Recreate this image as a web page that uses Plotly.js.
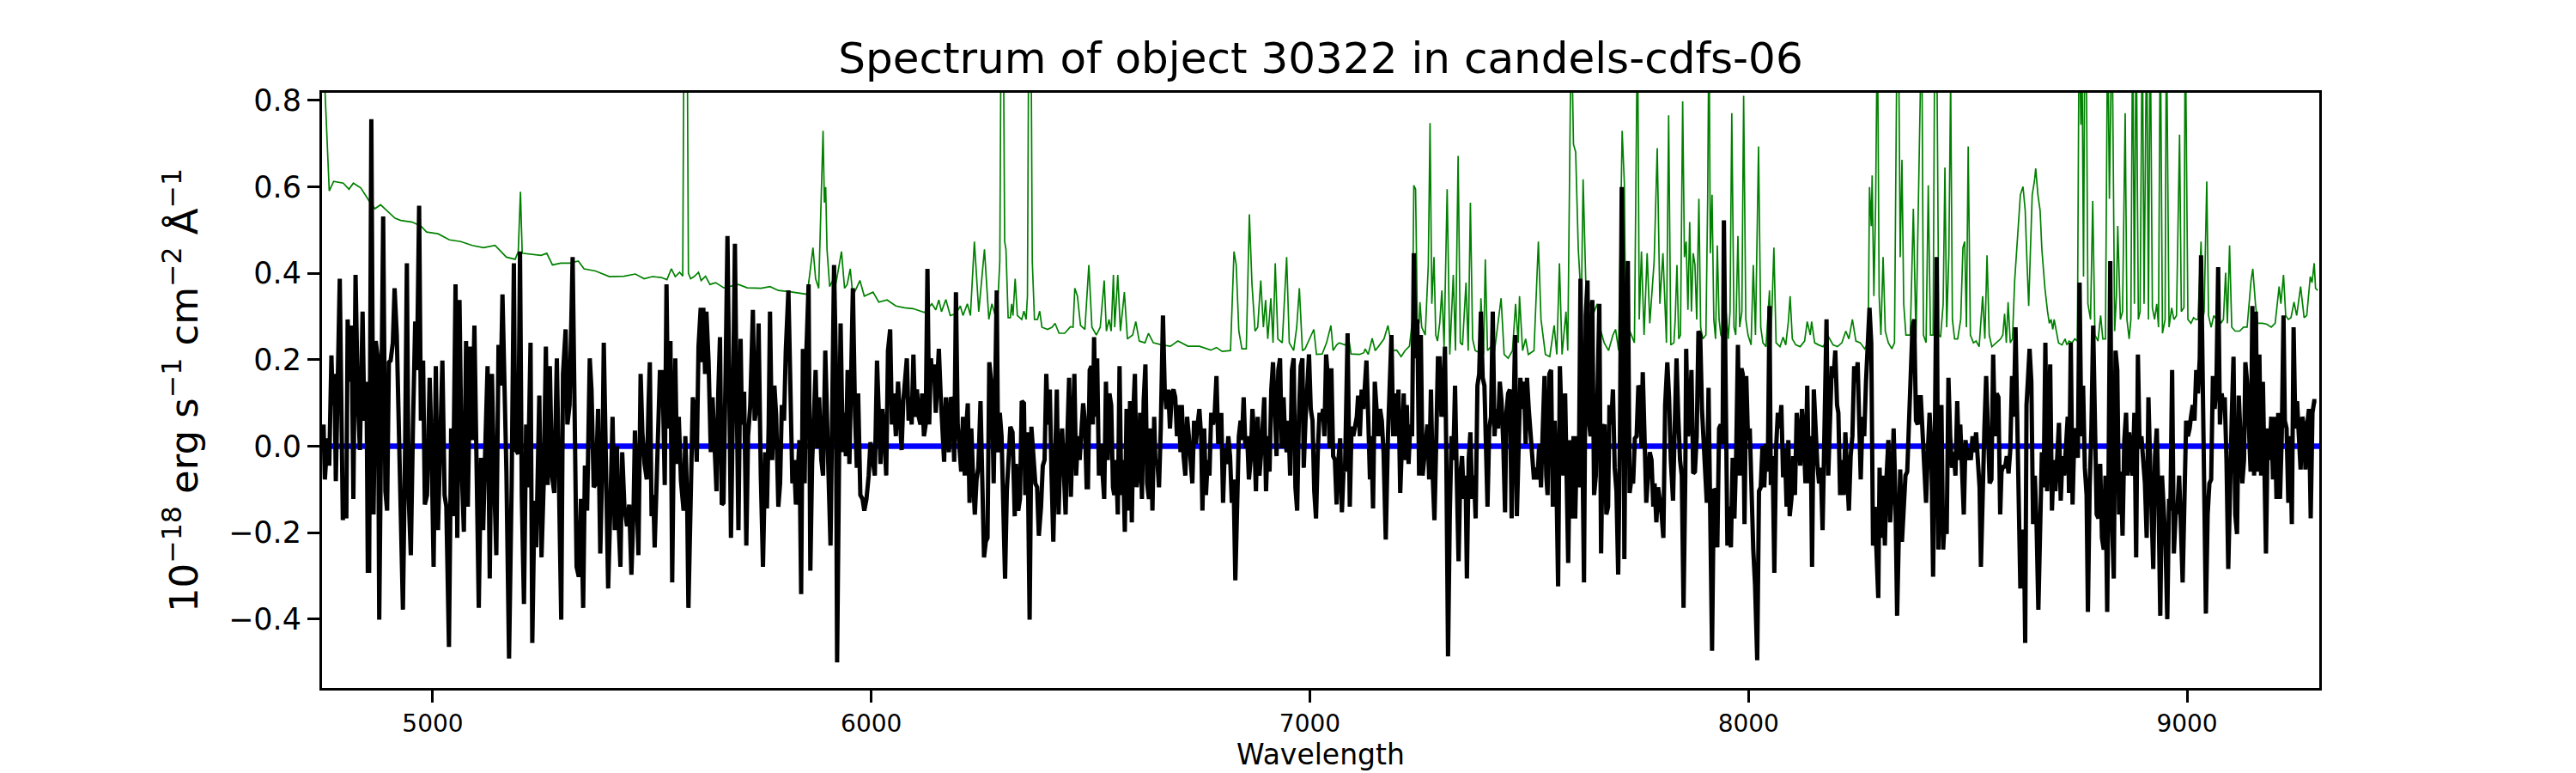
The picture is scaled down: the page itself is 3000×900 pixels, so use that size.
<!DOCTYPE html>
<html>
<head>
<meta charset="utf-8">
<script src="https://cdn.plot.ly/plotly-3.0.1.min.js"></script>
<style>html,body{margin:0;padding:0;background:#fff;}#chart{width:3000px;height:900px;}</style>
</head>
<body>
<div id="chart"></div>
<script>
// ---- Data ----
const chartTitle = 'Spectrum of object 30322 in candels-cdfs-06';
const xTitle = 'Wavelength';
const yTitle = '10<sup>\u221218</sup> erg s<sup>\u22121</sup> cm<sup>\u22122</sup> \u00c5<sup>\u22121</sup>';
const xTickVals = [5000, 6000, 7000, 8000, 9000];
const xTickText = ['5000', '6000', '7000', '8000', '9000'];
const yTickVals = [-0.4, -0.2, 0.0, 0.2, 0.4, 0.6, 0.8];
const yTickText = ['\u22120.4', '\u22120.2', '0.0', '0.2', '0.4', '0.6', '0.8'];

// Observed flux (black), in six wavelength pieces
const fluxWave1 = [4751,4754,4760,4764,4769,4772,4776,4779,4788,4792,4795,4800,4803,4806,4811,4815,4819,4824,4829,4834,4840,4844,4849,4852,4855,4860,4865,4870,4875,4878,4883,4887,4892,4896,4900,4904,4909,4913,4918,4924,4932,4937,4941,4945,4950,4955,4960,4964,4969,4973,4978,4982,4987,4993,4997,5002,5007,5012,5016,5022,5027,5031,5037,5042,5046,5052,5056,5061,5066,5071,5076,5080,5086,5090,5095,5101,5105,5110,5115,5120,5125,5130,5135,5140,5145,5150,5155,5159,5164,5168,5174,5180,5185,5188,5195,5199,5203,5208,5213,5217,5223,5227,5232,5236,5243,5248,5253,5258,5262,5267,5272,5277,5283,5288,5293,5297,5303,5307,5312,5319,5323,5328,5333,5338,5343,5347,5352,5358,5362,5367,5372,5377,5382,5387,5390,5396,5400,5405,5410,5415,5420,5423,5428,5432,5437,5443,5448,5453,5458,5461,5465,5469,5474,5478,5483,5488,5492,5495,5499,5503,5506,5511,5518];
const flux1 = [0.05,-0.077,0.018,-0.045,0.21,0.095,0.167,-0.081,0.387,-0.032,-0.171,-0.077,-0.167,0.293,0.149,0.279,-0.122,0.396,0.113,-0.009,0.311,0.059,0.149,-0.288,-0.288,0.756,-0.158,0.243,0.203,-0.401,0.059,0.531,-0.104,-0.149,0.194,0.198,0.239,0.365,0.257,0.023,-0.378,-0.005,0.423,-0.113,-0.252,0.05,0.288,0.176,0.556,0.059,0.198,-0.135,-0.113,0.158,0.014,-0.279,0.185,-0.194,-0.068,0.198,-0.113,-0.14,-0.464,0.041,-0.162,0.374,-0.212,0.338,-0.05,-0.198,0.243,-0.14,0.23,0.014,0.279,-0.113,-0.374,-0.027,-0.194,0.005,0.185,-0.306,0.167,-0.077,-0.252,0.234,0.14,0.351,0.122,-0.059,-0.491,-0.086,0.423,-0.005,-0.018,0.45,-0.113,-0.365,0.05,-0.095,0.239,-0.455,-0.126,-0.234,0.117,-0.257,-0.086,0.23,-0.09,0.185,-0.068,-0.108,0.203,-0.068,-0.401,0.167,0.27,0.05,0.095,0.437,0.041,-0.279,-0.302,-0.122,-0.374,-0.045,-0.149,0.203,0.131,-0.095,-0.086,0.086,-0.248,-0.027,0.239,-0.095,-0.329,-0.14,0.068,-0.194,0,-0.158,-0.279,-0.014,-0.14,-0.185,-0.135,-0.297,-0.14,0.036,-0.14,-0.252,0.167,0.032,-0.041,-0.077,0.095,0.194,-0.162,-0.113,-0.234,-0.077,0.171];

const fluxWave2 = [5524,5529,5533,5537,5542,5546,5550,5553,5557,5561,5566,5572,5576,5580,5583,5588,5593,5597,5602,5606,5611,5614,5617,5621,5624,5629,5634,5638,5643,5647,5651,5655,5659,5663,5668,5672,5676,5680,5684,5689,5692,5697,5702,5705,5710,5715,5719,5724,5730,5734,5738,5743,5748,5753,5758,5762,5766,5769,5774,5779,5783,5788,5792,5796,5801,5805,5811,5816,5820,5824,5828,5831,5836,5840,5844,5848,5852,5857,5861,5865,5869,5873,5877,5881,5886,5890,5895,5899,5903,5907,5911,5915,5919,5922,5927,5930,5935,5938,5942,5946,5950,5954,5958,5963,5967,5970,5975,5980,5984,5989,5994,5998,6004,6008,6013,6017,6021,6025,6030,6034,6038,6043,6047,6051,6056,6061,6065,6069,6073,6077,6081,6085,6089,6092,6096,6100,6104,6108,6112,6116,6120,6124,6128,6132,6136,6139,6143,6147,6151,6154,6158,6162,6166,6170,6173,6177,6181,6185,6189,6193,6197,6201,6205,6209,6213,6217,6220,6224,6228,6232,6236,6240,6244,6249,6253,6257,6261,6265,6269,6275,6279,6283];
const flux2 = [0.171,-0.09,0.374,0.041,0.243,-0.315,0.059,0.203,-0.041,0.068,-0.081,-0.149,0.023,-0.122,-0.374,-0.095,0.113,0.086,-0.036,0.23,0.32,0.194,0.32,0.167,0.311,0.194,-0.014,0.113,-0.023,-0.104,0.122,0.252,-0.135,-0.131,0.185,0.486,0.149,-0.212,0.059,0.468,0.203,-0.194,0.248,0.05,0.126,-0.23,0.023,0.095,0.315,0.059,0.086,0.284,-0.068,-0.279,-0.014,-0.144,0.05,0.311,-0.032,0.14,0.072,-0.14,-0.086,0.095,0.059,0.221,0.36,0.068,-0.086,-0.032,-0.135,-0.095,0.014,-0.342,0.225,-0.086,0.221,0.374,-0.288,-0.041,0.059,0.176,-0.005,0.113,-0.032,-0.068,0.221,0.023,-0.086,-0.23,0.077,0.419,0.203,-0.5,0.023,0.284,-0.014,0.077,-0.023,0.176,-0.041,0.185,0.365,0.068,-0.05,0.122,-0.113,-0.122,-0.149,-0.122,-0.068,0.009,-0.032,-0.068,0.198,0.041,-0.041,0.086,0.023,-0.068,0.221,0.27,0.05,0.122,0.023,0.149,0.086,-0.009,0.104,0.167,0.203,0.059,0.113,0.05,0.212,0.068,0.131,0.068,0.05,0.122,0.023,0.05,0.41,0.05,0.203,0.149,0.189,0.077,0.167,0.225,0.122,0.05,-0.036,0.113,0.05,-0.014,0.113,0.104,-0.036,0.356,0.05,0.005,-0.059,0.068,-0.068,0.05,0.099,-0.131,0.041,-0.068,-0.158,-0.077,-0.05,0.104,-0.14,-0.257,-0.221,-0.212,0.194,0.131,-0.086,0.194];

const fluxWave3 = [6286,6289,6293,6297,6301,6305,6309,6313,6317,6322,6327,6330,6335,6339,6343,6348,6351,6356,6361,6365,6369,6374,6378,6382,6387,6391,6395,6399,6403,6407,6411,6415,6419,6423,6427,6431,6435,6439,6443,6447,6451,6455,6459,6463,6467,6471,6475,6479,6483,6487,6491,6494,6498,6502,6505,6508,6511,6515,6519,6523,6527,6531,6535,6539,6543,6547,6551,6554,6558,6562,6566,6570,6574,6578,6582,6586,6590,6594,6598,6601,6605,6609,6613,6617,6621,6625,6629,6633,6637,6641,6645,6648,6652,6656,6660,6665,6669,6673,6677,6681,6685,6689,6693,6697,6701,6705,6708,6712,6716,6720,6724,6728,6732,6736,6740,6744,6748,6752,6755,6759,6763,6767,6771,6775,6779,6783,6787,6791,6795,6798,6802,6806,6810,6814,6818,6822,6826,6830,6834,6838,6842,6845,6849,6853,6857,6861,6865,6869,6873,6877,6881,6885,6889,6893,6896,6900,6904,6908,6912,6916,6920,6924,6928,6932,6936,6940,6943,6947,6951,6955,6959,6963,6967,6971,6975,6979,6983,6986,6990,6994,6998,7002,7006,7010,7014,7018,7022,7026,7030,7033,7037,7041,7045];
const flux3 = [0.36,-0.014,0.077,0.023,-0.122,-0.306,-0.104,-0.014,0.045,0.032,-0.162,-0.041,-0.149,-0.122,0.104,0.099,-0.113,0.032,-0.401,0.045,-0.014,-0.086,-0.095,-0.207,-0.14,-0.045,-0.032,0.167,0.05,0.131,-0.068,-0.221,-0.041,0.131,-0.158,-0.014,0.041,-0.068,-0.158,0.023,0.158,-0.117,0.05,0.167,-0.068,0.023,-0.032,0.023,0.099,0.059,-0.095,-0.095,0.176,0.185,0.05,0.252,0.068,0.203,-0.068,0.005,-0.068,-0.122,0.149,-0.032,0.122,0.095,-0.095,-0.113,-0.032,-0.158,0.185,-0.113,-0.032,-0.198,0.086,-0.149,0.104,-0.176,0.095,0.167,-0.095,-0.059,0.077,-0.122,0.104,0.189,-0.086,-0.122,0.041,-0.149,0.068,-0.045,-0.032,-0.095,0.041,0.302,0.131,0.086,0.131,0.041,0.122,0.131,0.113,0.023,0.095,-0.014,0.095,-0.023,-0.068,0.068,0.023,-0.032,-0.086,0.059,0.005,0.05,0.086,0.023,-0.149,0.041,-0.113,-0.032,-0.068,0.077,0.05,0.077,0.162,0.005,0.023,0.077,-0.131,-0.005,-0.041,0.023,-0.023,-0.131,-0.077,-0.31,-0.077,0.023,0.059,0.014,0.113,-0.005,0.023,-0.077,-0.032,0.086,0.023,-0.104,0.068,-0.068,-0.014,0.059,0.113,-0.104,0.023,-0.059,0.131,0.194,0.059,-0.023,0.176,0.203,-0.005,0.113,0.032,-0.014,0.059,-0.068,0.176,0.203,-0.095,-0.149,0.068,0.185,0.203,-0.05,0.059,0.158,0.212,0.086,0.059,-0.104,-0.167,-0.014,0.077,0.059,0.086,0.023,0.212,0.158,-0.005];

const fluxWave4 = [7049,7053,7057,7061,7065,7069,7073,7077,7080,7086,7091,7095,7099,7103,7107,7110,7114,7118,7122,7126,7129,7133,7137,7140,7144,7148,7152,7156,7160,7164,7168,7173,7178,7182,7186,7190,7194,7198,7202,7206,7210,7214,7217,7221,7225,7229,7233,7237,7241,7245,7249,7253,7257,7261,7264,7268,7272,7276,7280,7284,7288,7292,7296,7300,7304,7308,7311,7315,7319,7323,7327,7331,7335,7339,7343,7347,7351,7355,7358,7362,7366,7370,7374,7378,7382,7386,7390,7394,7398,7401,7405,7409,7413,7417,7421,7425,7429,7433,7437,7441,7445,7448,7452,7456,7460,7464,7468,7472,7476,7480,7484,7488,7492,7495,7499,7503,7507,7511,7515,7519,7523,7527,7531,7535,7539,7542,7546,7550,7554,7558,7562,7566,7570,7574,7578,7582,7586,7589,7593,7597,7601,7605,7609,7613,7617,7621,7625,7629,7633,7636,7640,7644,7648,7652,7656,7660,7664,7668,7672,7676,7680,7683,7687,7691,7695,7699,7703,7707,7711,7715,7717,7721,7725,7729,7733,7737,7741,7745,7749,7753,7756,7759,7763,7767,7771,7775,7779,7783,7786,7790,7794,7798,7802,7806,7810];
const flux4 = [0.18,-0.023,-0.032,-0.135,-0.032,0.018,-0.153,-0.05,-0.059,0.261,-0.14,0.045,0.023,0.041,0.068,0.117,0.023,0.131,0.086,0.149,0.198,0.068,-0.077,0.023,-0.144,0.149,0.086,0.023,0.086,0.059,-0.014,-0.216,0.023,0.158,0.257,0.023,0.122,0.023,0.131,-0.108,0.05,0.122,-0.032,0.095,-0.041,0.05,0.023,0.446,0.203,0.293,-0.068,0.257,-0.068,-0.032,0.005,0.05,-0.077,0.131,-0.068,-0.171,0.005,0.203,0.203,0.068,0.095,0.23,-0.014,-0.486,-0.158,0.023,-0.032,0.14,-0.077,-0.266,-0.068,-0.023,-0.122,-0.068,-0.306,-0.032,0.032,-0.122,-0.068,-0.167,0.14,0.167,0.311,0.158,0.14,0.05,-0.14,0.041,0.068,0.311,0.023,0.086,0.041,0.149,0.104,0.005,-0.153,0.077,0.122,0.131,-0.167,0.059,0.257,-0.162,0.023,0.158,0.086,0.149,0.005,0.158,0.086,0.023,-0.041,-0.077,-0.05,-0.077,0.005,-0.095,0.041,0.162,-0.068,-0.113,0.167,0.176,-0.14,0.059,-0.068,-0.324,0.185,0.059,-0.068,0.122,-0.122,-0.27,0.014,-0.167,0.023,-0.167,0.023,-0.095,0.387,0.077,-0.315,0.302,0.383,0.059,0.023,0.338,-0.113,-0.068,0.194,0.329,-0.248,0.041,0.05,-0.158,-0.14,0.095,0.05,0.131,-0.05,-0.104,-0.297,0.023,0.599,0.293,-0.261,0.257,0.428,-0.108,-0.077,-0.086,0.018,0.023,0.14,0.131,-0.005,0.171,0.023,-0.131,-0.068,-0.014,-0.032,-0.14,-0.086,-0.176,-0.095,-0.122,-0.158,-0.212,0.095];

const fluxWave5 = [7815,7819,7823,7828,7832,7836,7840,7844,7848,7852,7856,7858,7862,7866,7870,7874,7878,7882,7886,7890,7894,7897,7901,7905,7909,7913,7917,7921,7925,7929,7933,7937,7941,7944,7948,7952,7956,7960,7964,7968,7972,7976,7980,7984,7987,7991,7995,7999,8003,8007,8011,8015,8020,8024,8028,8032,8036,8040,8044,8048,8051,8055,8059,8063,8067,8071,8075,8079,8083,8087,8091,8094,8098,8102,8106,8110,8114,8118,8122,8126,8130,8134,8138,8142,8145,8149,8153,8157,8161,8165,8169,8173,8178,8182,8186,8190,8194,8198,8202,8205,8209,8213,8217,8221,8225,8229,8233,8237,8241,8245,8249,8252,8256,8260,8264,8268,8272,8276,8280,8284,8288,8292,8296,8299,8303,8307,8311,8315,8319,8323,8327,8331,8335,8339,8342,8346,8350,8354,8358,8362,8366,8370,8374,8378,8382,8386,8389,8393,8397,8401,8405,8409,8413,8417,8421,8425,8429,8433,8436,8440,8444,8448,8452,8456,8460,8464,8468,8472,8476,8480,8483,8487,8491,8495,8499,8503,8507,8511,8515,8519,8523,8527,8530,8534,8538,8542,8546,8550,8554,8558,8562,8566,8570,8574];
const flux5 = [0.194,0.113,-0.032,-0.126,0.05,0.203,0.068,-0.032,-0.068,-0.374,-0.068,0.225,0.023,0.059,0.176,-0.063,-0.059,0.023,0.266,0.257,0.086,0.023,-0.023,-0.131,0.135,-0.113,-0.473,-0.099,-0.104,-0.234,0.041,0.05,0.005,0.522,0.05,-0.23,-0.14,-0.234,-0.027,-0.167,-0.018,0.234,-0.068,0.18,0.167,-0.18,0.162,0.014,0.041,-0.131,-0.239,-0.32,-0.495,-0.104,-0.095,0,-0.095,0.005,-0.059,0.324,-0.09,-0.023,-0.293,-0.005,0.077,0.041,0.095,-0.072,-0.005,-0.14,0.014,-0.162,-0.122,-0.023,-0.113,0.077,0.032,-0.045,0.086,0.023,-0.086,0.14,-0.086,0.023,-0.279,0.131,0.023,-0.041,-0.086,-0.05,-0.194,-0.005,0.293,-0.068,0.059,0.185,0.158,0.221,0.095,0.077,-0.113,-0.032,-0.113,0.032,-0.068,-0.149,-0.023,0.023,0.185,0.149,0.194,0.05,-0.077,0.068,0.023,0.149,0.248,0.32,0.239,-0.23,-0.14,-0.23,-0.351,-0.05,-0.212,-0.068,-0.23,-0.068,0.014,-0.176,-0.104,0.041,-0.113,-0.392,-0.212,-0.054,-0.221,-0.113,-0.068,-0.059,0.05,0.203,0.275,0.293,0.059,0.05,0.113,0.113,0.041,-0.032,-0.131,-0.014,0.077,-0.005,-0.302,0.023,0.437,-0.239,-0.131,0.095,-0.239,-0.158,-0.203,0.158,0.023,-0.05,-0.014,-0.068,0.104,-0.032,0.05,-0.041,-0.158,0.014,-0.032,-0.005,-0.032,0.023,-0.014,0.032,-0.045,-0.095,-0.279,-0.05,0.041,0.162,0.059,-0.086,-0.077,0.212,0.023,0.122,0.113,-0.158];

const fluxWave6 = [8577,8581,8585,8589,8593,8597,8601,8605,8609,8613,8617,8620,8624,8628,8631,8634,8637,8641,8645,8649,8653,8657,8661,8665,8669,8673,8677,8681,8684,8688,8692,8696,8700,8704,8708,8712,8716,8720,8724,8728,8731,8735,8739,8743,8747,8751,8755,8759,8763,8767,8771,8774,8778,8782,8786,8790,8794,8798,8802,8806,8810,8814,8818,8821,8825,8829,8833,8837,8841,8845,8849,8853,8857,8861,8865,8868,8872,8876,8880,8884,8888,8892,8896,8900,8904,8908,8912,8915,8919,8923,8927,8931,8935,8939,8943,8947,8951,8955,8959,8962,8966,8970,8974,8978,8982,8986,8990,8994,8998,9002,9006,9009,9013,9017,9021,9025,9029,9032,9036,9039,9043,9047,9051,9055,9059,9063,9067,9071,9075,9079,9083,9086,9090,9094,9098,9102,9106,9110,9114,9118,9122,9126,9130,9133,9137,9141,9145,9149,9153,9157,9161,9165,9169,9173,9176,9180,9184,9188,9192,9196,9200,9204,9208,9212,9216,9220,9223,9227,9231,9235,9239,9243,9247,9251,9255,9259,9263,9267,9270,9274,9278,9282,9286,9290,9295];
const flux6 = [-0.059,-0.045,-0.05,-0.023,-0.063,-0.009,0.162,0.068,0.275,0.077,-0.113,-0.329,-0.203,-0.194,-0.455,0.095,0.149,0.225,0.149,-0.18,-0.068,-0.185,-0.378,-0.14,-0.014,-0.095,0.239,-0.104,0.023,0.189,-0.149,-0.032,-0.104,-0.041,0.054,-0.126,-0.023,-0.068,0.023,0.068,-0.108,0.239,-0.135,0.023,0.041,-0.027,0.378,0.023,0.14,-0.05,-0.113,-0.383,-0.095,0.041,0.279,-0.023,-0.158,-0.167,-0.041,-0.212,-0.239,-0.068,-0.383,-0.068,0.428,-0.176,-0.306,0.221,0.176,-0.158,-0.059,-0.207,0.014,0.077,-0.068,0.032,-0.032,-0.068,0.077,-0.257,0.212,-0.005,0.023,-0.032,-0.086,-0.212,0.113,-0.005,-0.14,-0.284,-0.023,0.041,-0.131,-0.392,-0.068,-0.149,-0.23,-0.4,-0.122,-0.149,0.176,-0.248,-0.158,-0.149,-0.068,-0.185,-0.315,-0.131,0.059,0.023,0.041,0.068,0.095,0.059,0.176,0.122,0.203,0.441,0.14,0.068,-0.387,-0.158,-0.086,-0.077,0.162,0.086,0.14,0.414,0.05,0.122,0.086,0.113,-0.032,-0.284,-0.032,0.068,0.207,-0.158,-0.203,0.117,0.023,-0.086,-0.032,0.194,0.149,0.032,-0.059,0.324,-0.068,0.311,-0.059,0.212,-0.068,0.149,-0.05,-0.248,0.041,-0.032,0.068,-0.077,0.068,-0.122,0.077,-0.122,0.023,0.302,0.059,0.041,-0.131,0.023,-0.18,0.275,0.041,0.104,0.023,-0.054,0.068,0.041,-0.054,0.05,0.086,-0.167,0.077,0.104,0.104];

// Noise / sky spectrum (green); 1.0 marks lines that run off the top of the frame
const skyWave1 = [4750,4754,4764,4774,4796,4809,4819,4836,4855,4868,4881,4894,4914,4927,4953,4973,4986,5012,5038,5064,5090,5116,5142,5168,5188,5195,5200,5204,5221,5247,5260,5273,5292,5312,5332,5345,5371,5403,5436,5462,5482,5501,5521];
const sky1 = [1.0,0.83,0.59,0.612,0.608,0.594,0.608,0.597,0.567,0.549,0.558,0.545,0.527,0.522,0.518,0.509,0.495,0.491,0.477,0.473,0.464,0.459,0.464,0.437,0.432,0.45,0.588,0.446,0.444,0.441,0.446,0.419,0.423,0.423,0.428,0.41,0.405,0.392,0.393,0.398,0.387,0.392,0.39];
const skyWave2 = [5534,5544,5553,5563,5570,5573,5580,5583,5588,5596,5606,5612,5622,5632,5645,5664,5697,5717,5749,5769,5788,5814,5854,5867,5873,5880,5886,5890,5893,5896,5899,5905,5912,5919,5932,5939,5945,5952,5958,5974,5984,6004,6017,6036,6056,6076,6095,6121,6138,6147,6154,6160,6170,6180,6193,6203,6209,6219,6226,6235,6245,6258,6268,6275,6284];
const sky2 = [0.385,0.41,0.392,0.402,0.393,1.0,1.0,0.40,0.387,0.392,0.402,0.383,0.393,0.374,0.378,0.366,0.374,0.366,0.365,0.369,0.36,0.357,0.351,0.459,0.387,0.365,0.572,0.729,0.563,0.599,0.455,0.369,0.383,0.374,0.45,0.365,0.374,0.41,0.347,0.383,0.347,0.356,0.333,0.338,0.324,0.32,0.318,0.309,0.329,0.315,0.338,0.311,0.339,0.302,0.306,0.324,0.302,0.329,0.302,0.473,0.311,0.455,0.293,0.329,0.297];
const skyWave3 = [6290,6293,6296,6301,6304,6307,6312,6317,6320,6323,6328,6333,6343,6348,6353,6356,6359,6364,6367,6372,6379,6384,6389,6402,6412,6419,6428,6441,6454,6460,6464,6470,6477,6487,6496,6503,6513,6522,6531,6536,6542,6547,6552,6555,6562,6568,6577,6584,6596,6603,6611,6624,6632,6643,6663,6682,6699,6722,6748,6774,6787,6800,6819,6827,6832,6838,6845,6855,6862,6868,6875,6881,6888,6894,6899,6904,6911,6916,6921,6927,6937,6947,6953,6963,6970,6976,6983,6989,6999,7009,7015,7028,7038,7048];
const sky3 = [0.365,0.428,1.0,1.0,0.473,0.455,0.297,0.297,0.329,0.302,0.387,0.302,0.293,0.312,0.293,0.347,1.0,1.0,0.428,0.293,0.293,0.312,0.275,0.27,0.275,0.284,0.261,0.261,0.276,0.275,0.365,0.347,0.279,0.27,0.419,0.275,0.257,0.275,0.383,0.266,0.293,0.266,0.396,0.275,0.396,0.266,0.356,0.248,0.257,0.288,0.243,0.239,0.261,0.239,0.234,0.231,0.243,0.231,0.231,0.222,0.228,0.219,0.221,0.45,0.419,0.266,0.225,0.225,0.536,0.374,0.266,0.275,0.383,0.275,0.338,0.248,0.342,0.239,0.423,0.248,0.239,0.437,0.239,0.221,0.275,0.365,0.221,0.225,0.248,0.27,0.212,0.213,0.239,0.279];
const skyWave4 = [7053,7061,7067,7080,7090,7094,7113,7123,7126,7133,7142,7149,7159,7169,7178,7188,7198,7208,7217,7227,7234,7237,7241,7245,7249,7251,7255,7263,7270,7274,7278,7283,7287,7291,7296,7301,7306,7313,7319,7327,7332,7338,7343,7348,7356,7361,7366,7371,7377,7387,7390,7396,7400,7405,7413,7420,7436,7443,7452,7462,7469,7475,7478,7485,7492,7498,7511,7521,7527,7537,7547,7557,7563,7569,7575,7584,7588,7593,7596,7601,7606,7612,7619,7623,7629,7635,7645,7655,7661,7671,7681,7691,7697,7704,7712,7717,7720,7726,7733,7740,7747,7751,7756,7762,7769,7775,7785,7792,7798,7805,7811];
const sky4 = [0.221,0.234,0.239,0.234,0.239,0.213,0.212,0.216,0.225,0.212,0.249,0.221,0.234,0.248,0.279,0.221,0.222,0.207,0.221,0.231,0.293,0.603,0.594,0.293,0.284,0.333,0.275,0.257,0.419,0.747,0.329,0.437,0.257,0.243,0.284,0.36,0.23,0.594,0.212,0.396,0.221,0.671,0.239,0.234,0.378,0.221,0.563,0.248,0.221,0.216,0.342,0.212,0.432,0.221,0.23,0.212,0.342,0.212,0.203,0.221,0.329,0.239,0.347,0.221,0.248,0.212,0.221,0.473,0.293,0.212,0.207,0.279,0.212,0.423,0.212,0.311,0.221,0.563,1.0,0.698,0.68,0.455,0.329,0.617,0.383,0.338,0.302,0.329,0.275,0.239,0.221,0.257,0.27,0.221,0.729,0.608,0.266,0.275,0.257,0.239,1.0,0.293,0.45,0.257,0.446,0.284,0.428,0.689,0.329,0.446,0.293];
const skyWave5 = [7813,7818,7823,7830,7833,7837,7841,7845,7850,7854,7858,7862,7866,7870,7874,7878,7882,7887,7891,7896,7903,7907,7910,7913,7917,7921,7925,7929,7933,7937,7942,7946,7950,7954,7958,7962,7967,7971,7976,7980,7985,7989,7994,7999,8006,8011,8016,8023,8028,8033,8040,8048,8051,8058,8063,8072,8079,8085,8091,8095,8100,8108,8118,8128,8134,8141,8144,8151,8160,8170,8183,8193,8203,8213,8222,8229,8237,8245,8255,8265,8273,8276,8280,8282,8286,8290,8294,8298,8302,8307,8312,8319,8327,8333,8339,8342,8346,8350,8354,8359,8369,8376,8382,8389,8395,8399,8405,8410,8415,8421,8425,8429,8434,8438,8444,8448,8452,8457,8461,8465,8470,8477,8484,8489,8493,8497,8501,8506,8513,8519,8526,8534,8539,8544,8549,8555,8565,8575];
const sky5 = [0.239,0.765,0.234,0.239,0.293,0.419,0.248,0.257,0.797,0.437,0.473,0.315,0.518,0.311,0.446,0.419,0.293,0.572,0.275,0.248,0.257,0.572,1.0,0.446,0.581,0.293,0.248,0.464,0.293,0.257,0.248,0.347,0.293,0.248,0.311,0.77,0.275,0.257,0.486,0.275,0.311,0.81,0.293,0.257,0.234,0.419,0.257,0.693,0.275,0.239,0.23,0.36,0.234,0.459,0.239,0.23,0.252,0.234,0.288,0.347,0.248,0.234,0.23,0.243,0.288,0.257,0.288,0.239,0.234,0.23,0.252,0.234,0.23,0.239,0.266,0.248,0.293,0.243,0.239,0.225,0.239,0.599,0.509,0.626,0.347,0.563,1.0,0.347,0.257,0.437,0.266,0.239,0.225,0.239,1.0,1.0,0.437,0.662,0.329,0.257,0.257,0.549,0.248,0.603,1.0,0.257,0.239,0.603,0.257,0.257,1.0,1.0,0.257,0.252,0.329,0.644,0.275,0.446,0.85,0.293,0.248,0.248,0.293,0.459,0.473,0.275,0.693,0.257,0.239,0.243,0.23,0.347,0.248,0.441,0.257,0.23,0.239,0.248];
const skyWave6 = [8580,8584,8588,8592,8597,8602,8607,8614,8620,8626,8631,8635,8639,8643,8647,8652,8655,8660,8665,8669,8676,8682,8686,8690,8694,8697,8702,8707,8715,8722,8726,8731,8738,8744,8750,8754,8758,8760,8764,8767,8771,8774,8780,8785,8790,8797,8803,8808,8814,8819,8823,8826,8829,8835,8839,8842,8848,8853,8859,8863,8868,8872,8876,8880,8884,8889,8893,8898,8902,8908,8912,8916,8921,8926,8931,8935,8939,8944,8950,8953,8959,8965,8970,8976,8983,8987,8993,8996,9002,9009,9015,9020,9025,9032,9036,9039,9045,9049,9055,9061,9067,9072,9077,9083,9088,9092,9097,9102,9110,9120,9129,9137,9146,9150,9156,9161,9172,9182,9192,9201,9210,9214,9220,9225,9231,9237,9244,9250,9259,9267,9273,9281,9285,9290,9293,9298];
const sky6 = [0.257,0.306,0.239,0.333,0.239,0.248,0.383,0.491,0.581,0.6,0.545,0.428,0.324,0.455,0.581,0.612,0.642,0.581,0.545,0.455,0.365,0.311,0.284,0.293,0.27,0.293,0.266,0.239,0.234,0.248,0.234,0.243,0.239,0.248,0.243,1.0,0.743,1.0,0.392,1.0,0.806,0.329,0.293,0.567,0.257,0.243,0.302,0.248,0.248,1.0,0.572,1.0,1.0,0.266,0.347,0.509,0.293,0.311,0.77,0.293,0.248,0.293,1.0,0.329,1.0,0.293,0.311,1.0,0.329,1.0,0.293,1.0,0.32,0.293,0.329,0.275,1.0,0.261,0.293,1.0,0.275,0.32,0.293,0.302,0.72,0.311,0.32,1.0,0.293,0.284,0.297,0.293,0.293,0.473,0.293,0.311,0.612,0.302,0.275,0.302,0.293,0.302,0.284,0.293,0.401,0.284,0.464,0.275,0.266,0.266,0.275,0.275,0.383,0.41,0.329,0.284,0.284,0.282,0.275,0.284,0.369,0.329,0.396,0.302,0.293,0.297,0.333,0.302,0.369,0.297,0.302,0.392,0.378,0.423,0.365,0.36];

// Model (blue): flat at zero
const modelWave = [4763, 9302];
const modelVal = [0, 0];

// ---- Assemble ----
const fluxWave = [].concat(fluxWave1, fluxWave2, fluxWave3, fluxWave4, fluxWave5, fluxWave6);
const flux = [].concat(flux1, flux2, flux3, flux4, flux5, flux6);
const skyWave = [].concat(skyWave1, skyWave2, skyWave3, skyWave4, skyWave5, skyWave6);
const sky = [].concat(sky1, sky2, sky3, sky4, sky5, sky6);

const FONT = '"DejaVu Sans", "Liberation Sans", sans-serif';

const traces = [
  {x: skyWave, y: sky, type: 'scatter', mode: 'lines', line: {color: '#008000', width: 1.7}, hoverinfo: 'skip', showlegend: false},
  {x: modelWave, y: modelVal, type: 'scatter', mode: 'lines', line: {color: '#0000ff', width: 6.5}, hoverinfo: 'skip', showlegend: false},
  {x: fluxWave, y: flux, type: 'scatter', mode: 'lines', line: {color: '#000000', width: 5}, hoverinfo: 'skip', showlegend: false}
];

const layout = {
  width: 3000, height: 900,
  paper_bgcolor: '#ffffff', plot_bgcolor: '#ffffff',
  margin: {l: 375, r: 299, t: 108, b: 99, pad: 0},
  font: {family: FONT, color: '#000000'},
  showlegend: false,
  title: {text: chartTitle, font: {family: FONT, size: 50, color: '#000000'}, x: 0.5, xref: 'paper', xanchor: 'center', y: 1 - 67/900, yref: 'container', yanchor: 'middle'},
  xaxis: {
    range: [4747.5, 9301.5], tickvals: xTickVals, ticktext: xTickText,
    ticks: 'outside', ticklen: 14, tickwidth: 3, tickcolor: '#000000',
    tickfont: {family: FONT, size: 28, color: '#000000'},
    showline: true, linecolor: '#000000', linewidth: 3, mirror: true,
    showgrid: false, zeroline: false,
    title: {text: xTitle, font: {family: FONT, size: 33, color: '#000000'}, standoff: 8}
  },
  yaxis: {
    range: [-0.559, 0.817], tickvals: yTickVals, ticktext: yTickText,
    ticks: 'outside', ticklen: 14, tickwidth: 3, tickcolor: '#000000',
    tickfont: {family: FONT, size: 35, color: '#000000'},
    showline: true, linecolor: '#000000', linewidth: 3, mirror: true,
    showgrid: false, zeroline: false,
    title: {text: yTitle, font: {family: FONT, size: 45, color: '#000000'}, standoff: 22}
  }
};

Plotly.newPlot('chart', traces, layout, {displayModeBar: false, staticPlot: true});
</script>
</body>
</html>
